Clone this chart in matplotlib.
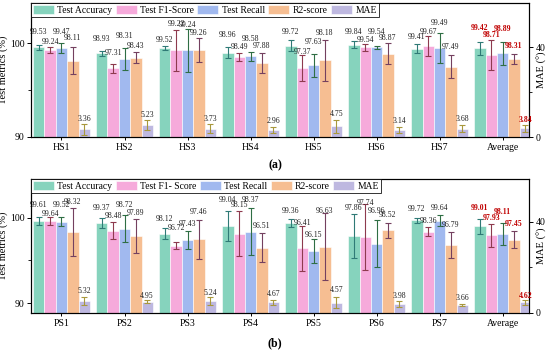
import matplotlib
matplotlib.use('Agg')
import matplotlib.pyplot as plt
import numpy as np

plt.rcParams['font.family'] = ['Liberation Serif', 'DejaVu Serif']

# ---------------- data ----------------
groups_a = ['HS1', 'HS2', 'HS3', 'HS4', 'HS5', 'HS6', 'HS7', 'Average']
acc_a = [99.53, 98.93, 99.52, 98.96, 99.72, 99.84, 99.41, 99.42]
f1_a = [99.24, 97.31, 99.22, 98.49, 97.37, 99.54, 99.67, 98.71]
rec_a = [99.47, 98.31, 99.24, 98.58, 97.63, 99.54, 99.49, 98.89]
r2_a = [98.11, 98.43, 99.26, 97.88, 98.18, 98.87, 97.49, 98.31]
mae_a = [3.36, 5.23, 3.73, 2.96, 4.75, 3.14, 3.68, 3.84]
acc_err_a = [0.25, 0.27, 0.21, 0.57, 0.57, 0.35, 0.44, 0.71]
f1_err_a = [0.35, 0.48, 2.18, 0.44, 1.38, 0.35, 1.10, 1.58]
rec_err_a = [0.50, 1.20, 2.30, 0.44, 1.24, 0.16, 1.60, 1.24]
r2_err_a = [1.45, 0.57, 1.26, 1.06, 2.18, 1.15, 1.20, 0.57]
mae_err_a = [2.37, 2.20, 1.85, 1.40, 3.00, 1.26, 1.63, 1.48]

groups_b = ['PS1', 'PS2', 'PS3', 'PS4', 'PS5', 'PS6', 'PS7', 'Average']
acc_b = [99.61, 99.37, 98.12, 99.04, 99.36, 97.86, 99.72, 99.01]
f1_b = [99.64, 98.48, 96.72, 98.15, 96.41, 97.74, 98.36, 97.93]
rec_b = [99.52, 98.72, 97.43, 98.37, 96.15, 96.96, 99.64, 98.11]
r2_b = [98.32, 97.89, 97.46, 96.51, 96.63, 98.52, 96.79, 97.45]
mae_b = [5.32, 4.95, 5.24, 4.67, 4.57, 3.98, 3.66, 4.62]
acc_err_b = [0.45, 0.59, 0.65, 1.74, 0.45, 2.53, 0.29, 0.87]
f1_err_b = [0.45, 0.98, 0.43, 2.60, 2.61, 3.86, 0.54, 1.30]
rec_err_b = [0.54, 1.55, 1.05, 2.72, 1.41, 2.78, 0.65, 1.30]
r2_err_b = [2.84, 2.01, 2.25, 1.70, 3.90, 0.86, 1.52, 1.05]
mae_err_b = [1.76, 0.73, 1.76, 1.17, 2.34, 1.47, 0.50, 1.17]

series_names_a = ['Test Accuracy', 'Test F1-Score', 'Test Recall', 'R2-score', 'MAE']
series_names_b = ['Test Accuracy', 'Test F1- Score', 'Test Recall', 'R2-score', 'MAE']

# ---------------- layout / style ----------------
bar_colors = ['#86D3BD', '#F6AADB', '#A1B9EF', '#F6BE92', '#BEB8E0']
err_colors = ['#2F7A76', '#8E3A4E', '#2F6E44', '#74405F', '#A8983C']

# label nudges (pixels above error-bar top), per metric, per group
dy_a = [[13, 11.7, 6, 12.3, 8, 9.7, 7, 13.7],
        [4.7, 11, 5.7, 6.3, 3, 4, 4, 5],
        [11, 12, 3.3, 13.3, 12, 14, 10, 13.3],
        [8.7, 6, 5, 7.3, 7, 5, 8.7, 7.3]]
mae_dy_a = [5, 5.7, 5, 6, 5.7, 6, 5.7, 5]
dy_b = [[12.3, 10, 9.3, 11, 8, 6, 8.3, 11],
        [3.3, 6, 13.7, 6, 3, 1, 5.7, 6],
        [12.3, 10, 6.7, 8.3, 3.7, 9, 7.3, 11],
        [5.7, 5.7, 7.7, 6.7, 2, 7.7, 6.7, 6.7]]
mae_dy_b = [6, 4.3, 4.3, 5.7, 7.7, 5, 6, 4]

W, H = 550, 353
fig = plt.figure(figsize=(W / 100, H / 100), dpi=100)

PX2PT = 0.72


def panel(rect, groups, metrics, errs, mae, mae_err, dys, mae_dys,
          ylim_l, ylim_r, names):
    ax = fig.add_axes(rect)
    ax2 = ax.twinx()
    x = np.arange(len(groups))
    w = 0.18
    offs = (np.arange(5) - 2) * w
    handles = []
    for k in range(4):
        b = ax.bar(x + offs[k], metrics[k], w, color=bar_colors[k],
                   edgecolor='white', linewidth=0.4,
                   yerr=errs[k],
                   error_kw=dict(ecolor=err_colors[k], elinewidth=0.8,
                                 capsize=2.2, capthick=0.8),
                   zorder=2)
        handles.append(b)
        for i, (v, e) in enumerate(zip(metrics[k], errs[k])):
            avg = groups[i] == 'Average'
            ax.annotate(f'{v:.2f}', xy=(x[i] + offs[k], v + e),
                        xytext=(0, dys[k][i] * PX2PT), textcoords='offset points',
                        ha='center', va='center', fontsize=5.6,
                        color='#C00000' if avg else '#222222',
                        fontweight='bold' if avg else 'normal', zorder=5)
    b = ax2.bar(x + offs[4], mae, w, color=bar_colors[4], edgecolor='white',
                linewidth=0.4, yerr=mae_err,
                error_kw=dict(ecolor=err_colors[4], elinewidth=0.8,
                              capsize=2.2, capthick=0.8), zorder=2)
    handles.append(b)
    for i, (v, e) in enumerate(zip(mae, mae_err)):
        avg = groups[i] == 'Average'
        ax2.annotate(f'{v:.2f}', xy=(x[i] + offs[4], v + e),
                     xytext=(0, mae_dys[i] * PX2PT), textcoords='offset points',
                     ha='center', va='center', fontsize=5.6,
                     color='#C00000' if avg else '#222222',
                     fontweight='bold' if avg else 'normal')
    ax.set_xlim(-0.484, 7.42)
    ax.set_ylim(*ylim_l)
    ax2.set_ylim(*ylim_r)
    ax.set_xticks(x)
    ax.set_xticklabels(groups, fontsize=7)
    ax.set_yticks([90, 100])
    ax.set_yticks([95], minor=True)
    ax2.set_yticks([0, 40])
    ax2.set_yticks([20], minor=True)
    for a in (ax, ax2):
        a.tick_params(direction='out', length=3, width=0.7, labelsize=7, pad=1.5)
        a.tick_params(which='minor', direction='out', length=2, width=0.6)
        for s in a.spines.values():
            s.set_linewidth(0.8)
    ax.tick_params(axis='x', length=2.5, pad=1.5)
    ax.set_ylabel('Test metrics (%)', fontsize=7.5)
    ax.yaxis.set_label_coords(-0.046, 0.5)
    ax2.set_ylabel('MAE (°)', fontsize=7.5)
    ax2.yaxis.set_label_coords(1.016, 0.5)
    leg = ax2.legend(handles, names, loc='upper left', bbox_to_anchor=(0, 1),
                     ncol=5, fontsize=6.9, frameon=True, fancybox=False,
                     edgecolor='black', borderaxespad=0, borderpad=0.2,
                     handlelength=2.2, handleheight=1.15, handletextpad=0.35,
                     columnspacing=0.35)
    leg.get_frame().set_linewidth(0.7)
    leg.set_zorder(10)
    return ax, ax2


panel([31 / W, 1 - 137 / H, 498 / W, 134 / H], groups_a,
      [acc_a, f1_a, rec_a, r2_a], [acc_err_a, f1_err_a, rec_err_a, r2_err_a],
      mae_a, mae_err_a, dy_a, mae_dy_a, (90, 104.26), (0, 59.6), series_names_a)
panel([31 / W, 1 - 313 / H, 498 / W, 134 / H], groups_b,
      [acc_b, f1_b, rec_b, r2_b], [acc_err_b, f1_err_b, rec_err_b, r2_err_b],
      mae_b, mae_err_b, dy_b, mae_dy_b, (88.85, 104.53), (0, 58.9), series_names_b)

fig.text(0.5, 1 - 165 / H, '(a)', ha='center', va='center', fontsize=8.5, fontweight='bold')
fig.text(0.5, 1 - 343 / H, '(b)', ha='center', va='center', fontsize=8.5, fontweight='bold')

fig.savefig('out.png', dpi=100)
